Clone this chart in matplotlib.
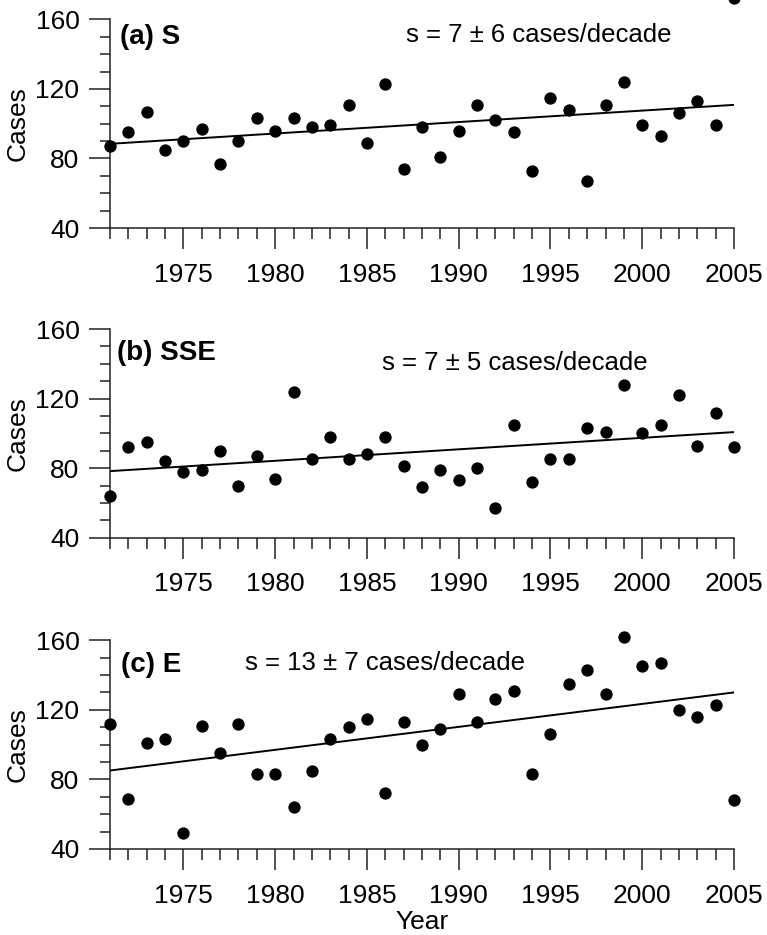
import numpy as np
import matplotlib
matplotlib.use("Agg")
import matplotlib.pyplot as plt
from matplotlib.ticker import MultipleLocator

plt.rcParams['font.family'] = ['Liberation Sans', 'DejaVu Sans']

years = np.arange(1971, 2006)

cases_s = [87, 95, 107, 85, 90, 97, 77, 90, 103, 96, 103, 98, 99, 111, 89, 123,
           74, 98, 81, 96, 111, 102, 95, 73, 115, 108, 67, 111, 124, 99, 93, 106,
           113, 99, 172]
cases_sse = [64, 92, 95, 84, 78, 79, 90, 70, 87, 74, 124, 85, 98, 85, 88, 98,
             81, 69, 79, 73, 80, 57, 105, 72, 85, 85, 103, 101, 128, 100, 105, 122,
             93, 112, 92]
cases_e = [112, 69, 101, 103, 49, 111, 95, 112, 83, 83, 64, 85, 103, 110, 115, 72,
           113, 100, 109, 129, 113, 126, 131, 83, 106, 135, 143, 129, 162, 145, 147, 120,
           116, 123, 68]

panel_labels = ['(a) S', '(b) SSE', '(c) E']
slope_texts = ['s = 7 \u00b1 6 cases/decade', 's = 7 \u00b1 5 cases/decade',
               's = 13 \u00b1 7 cases/decade']

fig = plt.figure(figsize=(7.67, 9.35), dpi=100)

# axes boxes in figure fractions
boxes = [[0.1434, 0.7561, 0.8136, 0.2232],
         [0.1434, 0.4249, 0.8136, 0.2232],
         [0.1434, 0.0920, 0.8136, 0.2232]]
label_pos = [(0.016, 0.915), (0.011, 0.885), (0.018, 0.882)]
text_pos = [(0.474, 0.925), (0.436, 0.837), (0.216, 0.891)]

for i, vals in enumerate([cases_s, cases_sse, cases_e]):
    ax = fig.add_axes(boxes[i])
    vals = np.array(vals)
    ax.scatter(years, vals, s=62, color='black', zorder=3, clip_on=False)

    # least squares trend
    k, b = np.polyfit(years, vals, 1)
    ax.plot([1971, 2005], [k * 1971 + b, k * 2005 + b], color='black', lw=1.4)

    ax.set_xlim(1971, 2005)
    ax.set_ylim(40, 160)
    ax.xaxis.set_major_locator(MultipleLocator(5))
    ax.xaxis.set_minor_locator(MultipleLocator(1))
    ax.yaxis.set_major_locator(MultipleLocator(40))
    ax.yaxis.set_minor_locator(MultipleLocator(10))
    ax.set_xticks([1975, 1980, 1985, 1990, 1995, 2000, 2005])

    for side in ['top', 'right']:
        ax.spines[side].set_visible(False)
    for side in ['left', 'bottom']:
        ax.spines[side].set_linewidth(1.1)
        ax.spines[side].set_color('#222222')

    ax.tick_params(axis='x', which='major', direction='out', length=15, width=1.1,
                   labelsize=19, pad=10, color='#222222')
    ax.tick_params(axis='x', which='minor', direction='out', length=8, width=1.1,
                   color='#222222')
    ax.tick_params(axis='y', which='major', direction='out', length=15, width=1.1,
                   labelsize=19, pad=7, color='#222222')
    ax.tick_params(axis='y', which='minor', direction='out', length=7.5, width=1.1,
                   color='#222222')

    ax.set_ylabel('Cases', fontsize=19)
    ax.yaxis.set_label_coords(-0.128, 0.5)

    ax.text(label_pos[i][0], label_pos[i][1], panel_labels[i], transform=ax.transAxes,
            fontsize=20, fontweight='bold', ha='left', va='center')
    ax.text(text_pos[i][0], text_pos[i][1], slope_texts[i], transform=ax.transAxes,
            fontsize=18.5, ha='left', va='center')

    if i == 2:
        ax.set_xlabel('Year', fontsize=19)
        ax.xaxis.set_label_coords(0.5, -0.29)

fig.savefig('out.png', dpi=100)
